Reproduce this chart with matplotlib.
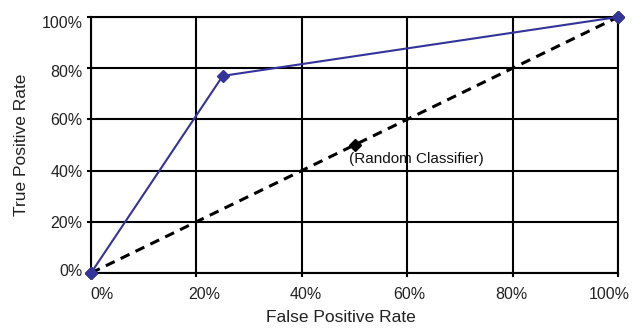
import matplotlib
matplotlib.use("Agg")
import matplotlib.pyplot as plt
import matplotlib.transforms as mtransforms

# Data
roc_fpr = [0.0, 0.25, 1.0]
roc_tpr = [0.0, 0.77, 1.0]
rand_fpr = [0.0, 0.5, 1.0]
rand_tpr = [0.0, 0.5, 1.0]
tick_vals = [0.0, 0.2, 0.4, 0.6, 0.8, 1.0]
tick_labels = ["0%", "20%", "40%", "60%", "80%", "100%"]
annot_text = "(Random Classifier)"
annot_xy = (0.49, 0.445)

plt.rcParams['font.family'] = ['Liberation Sans', 'DejaVu Sans']

fig = plt.figure(figsize=(6.36, 3.28), dpi=100)
ax = fig.add_axes([91/636, 1 - 273/328, 527/636, 256/328])

purple = "#33339a"

ax.plot(rand_fpr, rand_tpr, color="black", lw=2.2, ls=(0, (3.2, 2.2)),
        marker="D", markersize=6.5, markerfacecolor="black",
        markeredgecolor="black", clip_on=False, zorder=3)
ax.plot(roc_fpr, roc_tpr, color=purple, lw=1.5, marker="D", markersize=6.5,
        markerfacecolor=purple, markeredgecolor=purple, clip_on=False, zorder=4)

ax.text(annot_xy[0], annot_xy[1], annot_text, fontsize=11, ha="left",
        va="center", color="#111111", zorder=5)

ax.set_xlim(0, 1)
ax.set_ylim(0, 1)
ax.set_xticks(tick_vals)
ax.set_yticks(tick_vals)
ax.set_xticklabels(tick_labels)
ax.set_yticklabels(tick_labels)
ax.grid(True, color="black", lw=1.5)
ax.set_axisbelow(True)
for s in ax.spines.values():
    s.set_linewidth(1.5)
    s.set_color("black")
ax.tick_params(axis="both", direction="out", length=3, width=1.5,
               labelsize=11.5, colors="black", labelcolor="#222222")
ax.tick_params(axis="x", pad=7)
ax.tick_params(axis="y", pad=3)

# tick label offsets (pixels) to mimic the original layout
x_offsets_px = [11, 8, 4.3, 2.5, -1.3, -9]
for lab, dx in zip(ax.get_xticklabels(), x_offsets_px):
    lab.set_transform(lab.get_transform() +
                      mtransforms.ScaledTranslation(dx / 100, 0, fig.dpi_scale_trans))
y_offsets_px = [3, 0, 0, 0, -2.5, -4.5]
for lab, dy in zip(ax.get_yticklabels(), y_offsets_px):
    lab.set_transform(lab.get_transform() +
                      mtransforms.ScaledTranslation(0, dy / 100, fig.dpi_scale_trans))

ax.set_xlabel("False Positive Rate", fontsize=12.5, color="#222222")
ax.set_ylabel("True Positive Rate", fontsize=12.5, color="#222222")
ax.xaxis.set_label_coords(0.474, -0.145)
ax.yaxis.set_label_coords(-0.118, 0.5)

fig.savefig("out.png", dpi=100)
